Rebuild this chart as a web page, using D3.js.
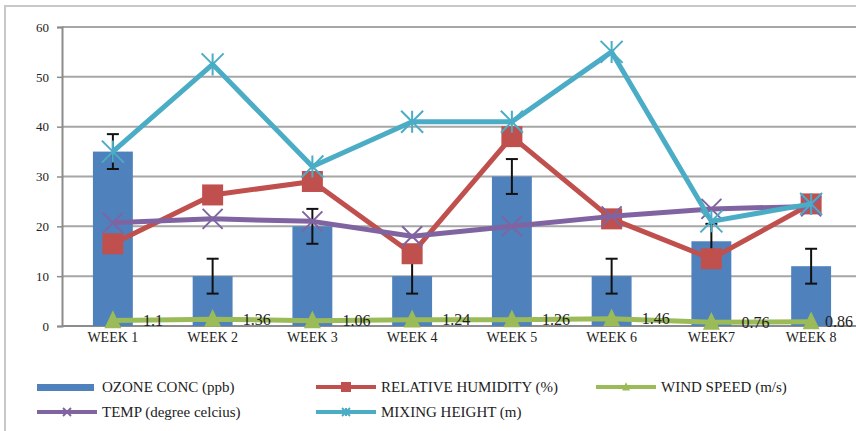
<!DOCTYPE html>
<html><head><meta charset="utf-8">
<script src="https://cdn.jsdelivr.net/npm/d3@7"></script>
<style>body{margin:0;background:#fff}svg{display:block}svg text{font-family:"Liberation Serif","Times New Roman","DejaVu Serif",serif}</style>
</head><body>
<svg id="c" width="856" height="431"></svg>
<script>
const categories = ["WEEK 1","WEEK 2","WEEK 3","WEEK 4","WEEK 5","WEEK 6","WEEK7","WEEK 8"];
const ozone = [35,10,20,10,30,10,17,12];
const ozoneErr = [3.5,3.5,3.5,3.5,3.5,3.5,3.5,3.5];
const humidity = [16.5,26.3,29,14.5,38,21.5,13.5,24.5];
const windSpeed = [1.1,1.36,1.06,1.24,1.26,1.46,0.76,0.86];
const temp = [20.7,21.5,21,18,20,22,23.5,24];
const mixing = [35,52.5,32,41,41,55,21,24.5];
const yTicks = [0,10,20,30,40,50,60];
const seriesNames = ["OZONE CONC (ppb)","RELATIVE HUMIDITY (%)","WIND SPEED (m/s)","TEMP (degree celcius)","MIXING HEIGHT (m)"];

const colors = {ozone:"#4F81BD", hum:"#C0504D", wind:"#9BBB59", temp:"#8064A2", mix:"#4BACC6"};
const svg = d3.select("#c");
const font = "Liberation Serif, Times New Roman, DejaVu Serif, serif";

// frame
svg.append("path").attr("d","M5,431V6H856").attr("fill","none").attr("stroke","#c8c8c8").attr("stroke-width",2);

const x = d3.scaleBand().domain(categories).range([63,861]).paddingInner(0.6).paddingOuter(0.3);
const xc = d => x(d) + x.bandwidth()/2;
const y = d3.scaleLinear().domain([0,60]).range([326,27]);

// gridlines
svg.append("g").selectAll("line").data(yTicks.slice(1)).join("line")
  .attr("x1",62).attr("x2",856).attr("y1",d=>y(d)).attr("y2",d=>y(d))
  .attr("stroke","#a6a6a6").attr("stroke-width",2);

// y axis
const ya = svg.append("g").attr("transform","translate(62,0)")
  .call(d3.axisLeft(y).tickValues(yTicks).tickSize(5).tickPadding(8));
ya.attr("font-family",null);
ya.select(".domain").attr("stroke","#8c8c8c").attr("stroke-width",2);
ya.selectAll(".tick line").attr("stroke","#8c8c8c").attr("stroke-width",1.5);
ya.selectAll("text").style("font-family",font).attr("font-size",13).attr("fill","#222");

// x axis
const xa = svg.append("g").attr("transform","translate(0,326)")
  .call(d3.axisBottom(x).tickSize(0).tickPadding(6));
xa.attr("font-family",null);
xa.select(".domain").attr("d","M62,0H856").attr("stroke","#8c8c8c").attr("stroke-width",2);
xa.selectAll("text").style("font-family",font).attr("font-size",14).attr("fill","#222");

// bars
svg.append("g").selectAll("rect").data(ozone).join("rect")
  .attr("x",(d,i)=>x(categories[i])).attr("width",x.bandwidth())
  .attr("y",d=>y(d)).attr("height",d=>y(0)-y(d)).attr("fill",colors.ozone);

// error bars
const eb = svg.append("g").attr("stroke","#111").attr("stroke-width",2);
ozone.forEach((d,i)=>{
  const cx = xc(categories[i]);
  eb.append("line").attr("x1",cx).attr("x2",cx).attr("y1",y(d-ozoneErr[i])).attr("y2",y(d+ozoneErr[i]));
  eb.append("line").attr("x1",cx-6).attr("x2",cx+6).attr("y1",y(d-ozoneErr[i])).attr("y2",y(d-ozoneErr[i]));
  eb.append("line").attr("x1",cx-6).attr("x2",cx+6).attr("y1",y(d+ozoneErr[i])).attr("y2",y(d+ozoneErr[i]));
});

const line = d3.line().x((d,i)=>xc(categories[i])).y(d=>y(d));

function marker(g, type, cx, cy, color, s){
  if(type==="square"){
    g.append("rect").attr("x",cx-s/2).attr("y",cy-s/2).attr("width",s).attr("height",s).attr("fill",color);
  } else if(type==="tri"){
    g.append("path").attr("d",`M${cx},${cy-s*0.6}L${cx+s/2},${cy+s*0.45}L${cx-s/2},${cy+s*0.45}Z`).attr("fill",color);
  } else if(type==="x"){
    g.append("path").attr("d",`M${cx-s/2},${cy-s/2}L${cx+s/2},${cy+s/2}M${cx-s/2},${cy+s/2}L${cx+s/2},${cy-s/2}`)
      .attr("stroke",color).attr("stroke-width",2).attr("fill","none");
  } else if(type==="star"){
    g.append("path").attr("d",`M${cx-s/2},${cy-s/2}L${cx+s/2},${cy+s/2}M${cx-s/2},${cy+s/2}L${cx+s/2},${cy-s/2}M${cx},${cy-s/2}L${cx},${cy+s/2}`)
      .attr("stroke",color).attr("stroke-width",2).attr("fill","none");
  }
}

function series(data, color, type, s){
  const g = svg.append("g");
  g.append("path").datum(data).attr("d",line).attr("fill","none").attr("stroke",color)
    .attr("stroke-width",5).attr("stroke-linejoin","round");
  data.forEach((d,i)=>marker(g,type,xc(categories[i]),y(d),color,s));
  return g;
}

series(humidity, colors.hum, "square", 21);
const wg = series(windSpeed, colors.wind, "tri", 17);
windSpeed.forEach((d,i)=>{
  const last = i === windSpeed.length-1;
  wg.append("text").attr("x",last ? 853 : xc(categories[i])+30).attr("y",y(d)).attr("dy","0.35em")
    .attr("text-anchor", last ? "end" : "start")
    .style("font-family",font).attr("font-size",16).attr("fill","#222").text(d);
});
series(temp, colors.temp, "x", 20);
series(mixing, colors.mix, "star", 22);

// legend
const legend = svg.append("g");
const items = [
  {name:seriesNames[0], color:colors.ozone, type:"bar", x:37, y:387},
  {name:seriesNames[1], color:colors.hum, type:"square", x:316, y:387},
  {name:seriesNames[2], color:colors.wind, type:"tri", x:596, y:387},
  {name:seriesNames[3], color:colors.temp, type:"x", x:37, y:412},
  {name:seriesNames[4], color:colors.mix, type:"star", x:316, y:412}
];
items.forEach(it=>{
  if(it.type==="bar"){
    legend.append("rect").attr("x",it.x).attr("y",it.y-3).attr("width",57).attr("height",7).attr("fill",it.color);
  } else {
    legend.append("line").attr("x1",it.x).attr("x2",it.x+60).attr("y1",it.y).attr("y2",it.y)
      .attr("stroke",it.color).attr("stroke-width",4);
    marker(legend,it.type,it.x+30,it.y,it.color,it.type==="square"?10:8);
  }
  legend.append("text").attr("x",it.x+65).attr("y",it.y).attr("dy","0.35em")
    .style("font-family",font).attr("font-size",15).attr("fill","#222").text(it.name);
});
</script>
</body></html>
